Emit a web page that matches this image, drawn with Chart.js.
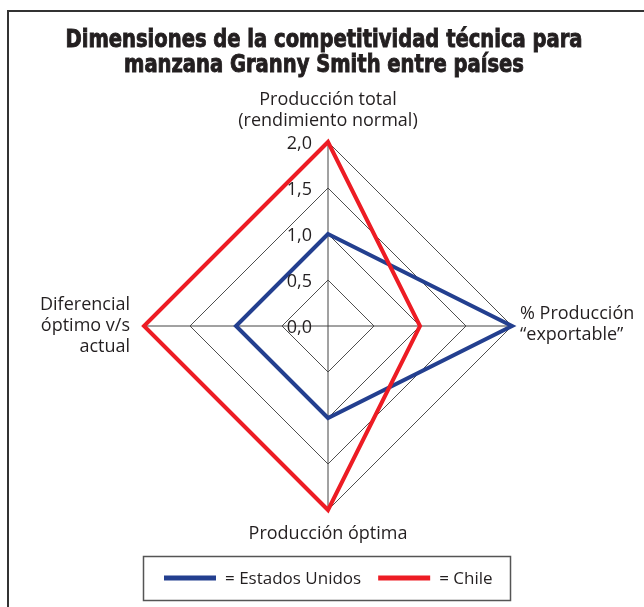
<!DOCTYPE html>
<html>
<head>
<meta charset="utf-8">
<script src="https://cdn.jsdelivr.net/npm/chart.js@4"></script>
<style>
html, body { margin: 0; padding: 0; background: #fff; }
#wrap { position: relative; width: 644px; height: 607px; }
</style>
</head>
<body>
<div id="wrap"><canvas id="radar" width="644" height="607"></canvas></div>
<script>
const titleLines = ["Dimensiones de la competitividad técnica para", "manzana Granny Smith entre países"];
const axisLabels = [
    ["Producción total", "(rendimiento normal)"],
    ["% Producción", "“exportable”"],
    ["Producción óptima"],
    ["Diferencial", "óptimo v/s", "actual"]
];
const seriesNames = ["Estados Unidos", "Chile"];
const usValues = [1.0, 2.0, 1.0, 1.0];
const chileValues = [2.0, 1.0, 2.0, 2.0];
const tickValues = [0, 0.5, 1.0, 1.5, 2.0];

const textColor = '#231f20';
const labelFont = "18px 'Open Sans', 'Noto Sans', sans-serif";

function fmt(v) {
    return v.toFixed(1).replace('.', ',');
}

// frame, title, axis names, tick labels and legend box
const decorations = {
    id: 'decorations',
    afterDraw(chart) {
        const ctx = chart.ctx;
        const r = chart.scales.r;
        ctx.save();

        // frame (top and left edges only are visible)
        ctx.strokeStyle = '#333';
        ctx.lineWidth = 2;
        ctx.beginPath();
        ctx.moveTo(8, 607);
        ctx.lineTo(8, 11);
        ctx.lineTo(644, 11);
        ctx.stroke();

        // title
        ctx.fillStyle = textColor;
        ctx.strokeStyle = textColor;
        ctx.lineWidth = 0.9;
        ctx.font = "bold 25px 'Liberation Sans Narrow', 'DejaVu Sans Condensed', sans-serif";
        ctx.textAlign = 'center';
        ctx.textBaseline = 'alphabetic';
        const sx = 517 / ctx.measureText(titleLines[0]).width;
        const baselines = [47, 72];
        titleLines.forEach((line, i) => {
            ctx.save();
            ctx.translate(324, baselines[i]);
            ctx.scale(sx, 1);
            ctx.fillText(line, 0, 0);
            ctx.strokeText(line, 0, 0);
            ctx.restore();
        });

        // axis names
        ctx.font = labelFont;
        ctx.textBaseline = 'middle';
        const lh = 21;
        const top = r.getPointPosition(0, r.drawingArea);
        ctx.textAlign = 'center';
        axisLabels[0].forEach((t, i) => {
            ctx.fillText(t, top.x, top.y - lh * (axisLabels[0].length - i));
        });
        const right = r.getPointPosition(1, r.drawingArea);
        ctx.textAlign = 'left';
        axisLabels[1].forEach((t, i) => {
            ctx.fillText(t, right.x + 8, right.y - 12 + lh * i);
        });
        const bottom = r.getPointPosition(2, r.drawingArea);
        ctx.textAlign = 'center';
        axisLabels[2].forEach((t, i) => {
            ctx.fillText(t, bottom.x, bottom.y + 24 + lh * i);
        });
        const left = r.getPointPosition(3, r.drawingArea);
        ctx.textAlign = 'right';
        axisLabels[3].forEach((t, i) => {
            ctx.fillText(t, left.x - 14, left.y - lh + lh * i);
        });

        // tick labels on the upper axis
        ctx.textAlign = 'right';
        tickValues.forEach(v => {
            const p = r.getPointPositionForValue(0, v);
            ctx.fillText(fmt(v), r.xCenter - 16, p.y + 2);
        });

        // legend
        ctx.strokeStyle = '#555';
        ctx.lineWidth = 1.5;
        ctx.strokeRect(143.5, 556.5, 367, 44);
        ctx.font = "17px 'Open Sans', 'Noto Sans', sans-serif";
        ctx.textAlign = 'left';
        let x = 164;
        const ly = 578;
        chart.data.datasets.forEach(ds => {
            ctx.strokeStyle = ds.borderColor;
            ctx.lineWidth = 5;
            ctx.beginPath();
            ctx.moveTo(x, ly);
            ctx.lineTo(x + 52, ly);
            ctx.stroke();
            x += 61;
            const txt = '= ' + ds.label;
            ctx.fillStyle = textColor;
            ctx.fillText(txt, x, ly + 1);
            x += ctx.measureText(txt).width + 17;
        });

        ctx.restore();
    }
};

new Chart(document.getElementById('radar'), {
    type: 'radar',
    data: {
        labels: axisLabels,
        datasets: [{
            label: seriesNames[0],
            data: usValues,
            borderColor: '#233f8f',
            borderWidth: 4,
            fill: false,
            pointRadius: 0,
            borderJoinStyle: 'miter',
            order: 2
        }, {
            label: seriesNames[1],
            data: chileValues,
            borderColor: '#ed1c24',
            borderWidth: 4,
            fill: false,
            pointRadius: 0,
            borderJoinStyle: 'miter',
            order: 1
        }]
    },
    options: {
        responsive: false,
        animation: false,
        devicePixelRatio: 1,
        layout: {
            padding: { left: 144, right: 132, top: 142, bottom: 97 }
        },
        elements: { line: { tension: 0 } },
        scales: {
            r: {
                min: 0,
                max: 2,
                ticks: { stepSize: 0.5, display: false },
                grid: { color: '#222', lineWidth: 0.8 },
                angleLines: { color: '#444', lineWidth: 1 },
                pointLabels: { display: false }
            }
        },
        plugins: {
            legend: { display: false },
            title: { display: false },
            tooltip: { enabled: false }
        }
    },
    plugins: [decorations]
});
</script>
</body>
</html>
